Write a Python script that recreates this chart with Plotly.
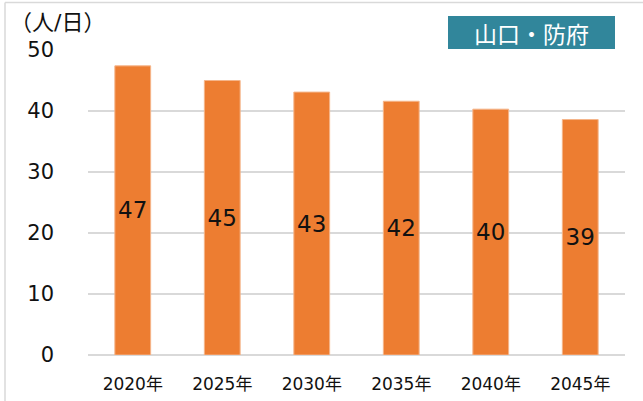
import plotly.graph_objects as go

# Projected daily users (persons/day) for the Yamaguchi–Hofu area
years = ["2020年", "2025年", "2030年", "2035年", "2040年", "2045年"]
users = [47.4, 45.0, 43.1, 41.6, 40.3, 38.6]
y_ticks = [0, 10, 20, 30, 40, 50]
unit_label = "（人/日）"
area_label = "山口・防府"

W, H = 643, 401
ML, MR, MT, MB = 88, 18, 50, 46
PW, PH = W - ML - MR, H - MT - MB

def px_x(x):
    return (x - ML) / PW

def px_y(y):
    return 1 - (y - MT) / PH

FONT = "DejaVu Sans, Noto Sans CJK JP, sans-serif"

fig = go.Figure(
    go.Bar(
        x=years,
        y=users,
        marker=dict(color="#ED7D31", line=dict(color="#F5B58A", width=1)),
        width=0.4,
        text=[f"{v:.0f}" for v in users],
        textposition="inside",
        insidetextanchor="middle",
        textangle=0,
        textfont=dict(family=FONT, size=23, color="#111111"),
        hoverinfo="skip",
    )
)

fig.update_layout(
    width=W,
    height=H,
    margin=dict(l=ML, r=MR, t=MT, b=MB),
    paper_bgcolor="white",
    plot_bgcolor="white",
    showlegend=False,
    bargap=0.6,
    xaxis=dict(
        automargin=False,
        showgrid=False,
        showline=False,
        ticks="",
        tickfont=dict(family=FONT, size=17, color="#111111"),
        ticklabelstandoff=17,
    ),
    yaxis=dict(
        automargin=False,
        range=[0, 50],
        tickvals=y_ticks,
        showgrid=True,
        gridcolor="#D9D9D9",
        gridwidth=1.5,
        zeroline=True,
        zerolinecolor="#D9D9D9",
        zerolinewidth=1.5,
        showline=False,
        ticks="",
        tickfont=dict(family=FONT, size=21, color="#111111"),
        ticklabelstandoff=33,
    ),
    shapes=[
        # chart frame: top and left edges
        dict(type="line", xref="paper", yref="paper",
             x0=px_x(5), x1=px_x(W), y0=px_y(2.5), y1=px_y(2.5),
             line=dict(color="#D9D9D9", width=1.5), layer="below"),
        dict(type="line", xref="paper", yref="paper",
             x0=px_x(5), x1=px_x(5), y0=px_y(2.5), y1=px_y(H),
             line=dict(color="#D9D9D9", width=1.5), layer="below"),
        # area label box
        dict(type="rect", xref="paper", yref="paper",
             x0=px_x(448), x1=px_x(615), y0=px_y(49), y1=px_y(16),
             fillcolor="#31869B", line=dict(width=0), layer="above"),
    ],
    annotations=[
        dict(text=unit_label, xref="paper", yref="paper",
             x=px_x(8), y=px_y(22), xanchor="left", yanchor="middle",
             showarrow=False, font=dict(family=FONT, size=22, color="#111111")),
        dict(text=area_label, xref="paper", yref="paper",
             x=px_x(531.5), y=px_y(33), xanchor="center", yanchor="middle",
             showarrow=False, font=dict(family="Noto Sans CJK JP, sans-serif", size=23, color="white")),
    ],
)

fig.write_html("out.html")
